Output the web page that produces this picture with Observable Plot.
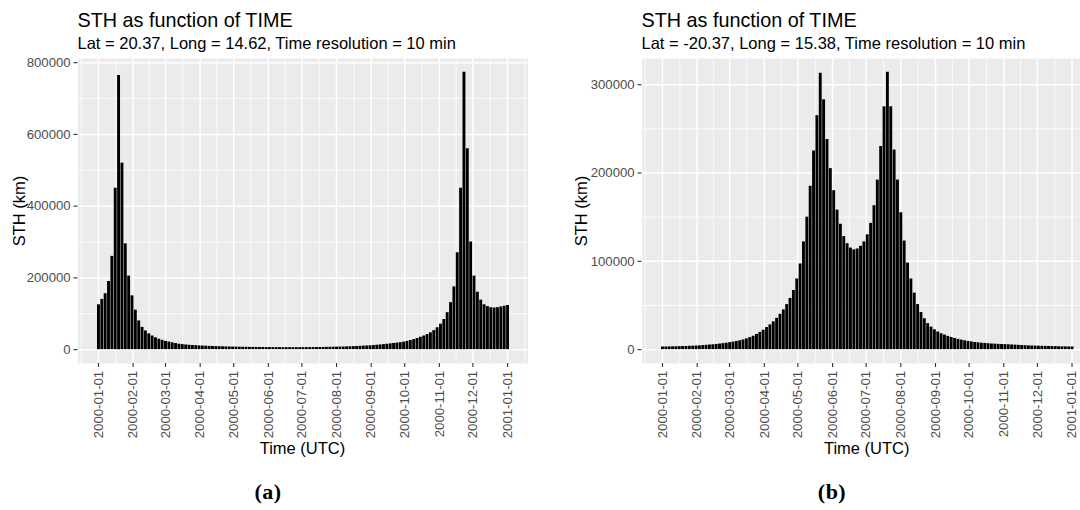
<!DOCTYPE html>
<html>
<head>
<meta charset="utf-8">
<script src="https://cdn.jsdelivr.net/npm/d3@7"></script>
<script src="https://cdn.jsdelivr.net/npm/@observablehq/plot@0.6"></script>
<style>
  html, body { margin: 0; padding: 0; background: #fff; overflow: hidden; }
  #wrap { position: relative; width: 1080px; height: 510px; overflow: hidden; font-family: "Liberation Sans", Arial, sans-serif; color: #000; }
  .abs { position: absolute; white-space: nowrap; line-height: 1; }
  .title { font-size: 19.8px; }
  .subtitle { font-size: 16.5px; }
  .axtitle { font-size: 16.5px; }
  .ytitle { transform: translate(-50%, -50%) rotate(-90deg); }
  .xtitle { transform: translateX(-50%); }
  .cap { font-family: "Liberation Serif", "Times New Roman", serif; font-weight: bold; font-size: 22px; transform: translateX(-50%); letter-spacing: 0.5px; }
  .plot { position: absolute; top: 0; }
</style>
</head>
<body>
<div id="wrap"></div>
<script>
// ---------------- data ----------------
// STH envelope (daily maximum, km) sampled every 3 days from 2000-01-01
const sampleStepDays = 3;
const sthA = [
  125000, 140000, 156000, 190000, 260000, 450000, 764000, 520000, 295000, 205000,
  150000, 110000, 80000, 62000, 52000, 44000, 38000, 33000, 29000, 26000,
  23000, 21000, 19000, 17000, 15000, 14000, 13000, 12200, 11600, 11000,
  10500, 10000, 9600, 9200, 8800, 8500, 8200, 7900, 7600, 7400,
  7200, 7000, 6800, 6600, 6500, 6300, 6200, 6100, 6000, 5900,
  5800, 5700, 5700, 5600, 5600, 5500, 5500, 5500, 5500, 5500,
  5500, 5600, 5600, 5700, 5800, 5900, 6000, 6100, 6300, 6500,
  6700, 6900, 7100, 7400, 7700, 8000, 8400, 8800, 9200, 9700,
  10200, 10800, 11500, 12300, 13100, 14000, 15000, 16100, 17200, 18300,
  19500, 21000, 23000, 25500, 28000, 31000, 34500, 38000, 42000, 47000,
  53000, 61000, 71000, 84000, 103000, 131000, 175000, 270000, 450000, 773000,
  560000, 300000, 205000, 160000, 138000, 125000, 120000, 117000, 116000, 117000,
  119000, 121000, 123000
];
const sthB = [
  3000, 3000, 3100, 3200, 3300, 3400, 3500, 3600, 3800, 3900,
  4100, 4300, 4600, 4900, 5200, 5500, 5900, 6300, 6800, 7300,
  7900, 8500, 9200, 10000, 11000, 12200, 13600, 15200, 17200, 19500,
  22000, 25000, 28000, 31500, 35500, 40000, 45000, 51000, 58000, 67000,
  80000, 97000, 122000, 150000, 185000, 225000, 265000, 313000, 283000, 238000,
  205000, 180000, 158000, 142000, 128000, 120000, 115000, 113000, 114000, 117000,
  122000, 130000, 143000, 163000, 192000, 230000, 275000, 314000, 275000, 226000,
  192000, 155000, 123000, 98000, 80000, 64000, 51000, 42000, 35000, 29500,
  25500, 22500, 20000, 18000, 16500, 15000, 13800, 12700, 11700, 10800,
  10000, 9300, 8700, 8100, 7700, 7300, 7000, 6700, 6400, 6200,
  6000, 5800, 5700, 5500, 5300, 5100, 4900, 4700, 4500, 4300,
  4100, 4000, 3900, 3800, 3700, 3600, 3500, 3400, 3300, 3200,
  3100, 3100, 3000
];
const xTickLabels = [
  "2000-01-01", "2000-02-01", "2000-03-01", "2000-04-01", "2000-05-01", "2000-06-01", "2000-07-01",
  "2000-08-01", "2000-09-01", "2000-10-01", "2000-11-01", "2000-12-01", "2001-01-01"
];
const yTicksA = [0, 200000, 400000, 600000, 800000];
const yMinorA = [100000, 300000, 500000, 700000];
const yTicksB = [0, 100000, 200000, 300000];
const yMinorB = [50000, 150000, 250000];
const titles = ["STH as function of TIME", "STH as function of TIME"];
const subtitles = ["Lat = 20.37, Long = 14.62, Time resolution = 10 min", "Lat = -20.37, Long = 15.38, Time resolution = 10 min"];
const xTitle = "Time (UTC)";
const yTitle = "STH (km)";
const captions = ["(a)", "(b)"];

// ---------------- helpers ----------------
const DAY = 864e5;
const xTicks = xTickLabels.map(s => new Date(s + "T00:00:00Z"));
const t0 = +xTicks[0];
const t1 = +xTicks[xTicks.length - 1];
const span = t1 - t0;
const xDomain = [new Date(t0 - 0.05 * span), new Date(t1 + 0.05 * span)];
// minor grid: midpoints between (extended) monthly breaks
const extBreaks = [new Date(Date.UTC(1999, 11, 1)), ...xTicks, new Date(Date.UTC(2001, 1, 1))];
const xMinor = [];
for (let i = 0; i < extBreaks.length - 1; i++) {
  const m = new Date((+extBreaks[i] + +extBreaks[i + 1]) / 2);
  if (m >= xDomain[0] && m <= xDomain[1]) xMinor.push(m);
}
const fmtX = d => xTickLabels[xTicks.findIndex(t => +t === +d)];

function panel({values, yTicks, yMinor, marginLeft, width}) {
  const data = values.map((v, i) => ({t: new Date(t0 + i * sampleStepDays * DAY), v}));
  const maxV = d3.max(values);
  const yDomain = [-0.05 * maxV, 1.05 * maxV];
  return Plot.plot({
    width, height: 460,
    marginLeft, marginRight: 12.5, marginTop: 58, marginBottom: 97,
    style: {background: "transparent", fontFamily: "'Liberation Sans', Arial, sans-serif", fontSize: "13.2px", overflow: "visible"},
    x: {type: "utc", domain: xDomain, axis: null},
    y: {domain: yDomain, axis: null},
    marks: [
      Plot.frame({fill: "#EBEBEB", stroke: "none"}),
      Plot.gridX(xMinor, {stroke: "#fff", strokeOpacity: 1, strokeWidth: 0.8}),
      Plot.gridY(yMinor, {stroke: "#fff", strokeOpacity: 1, strokeWidth: 0.8}),
      Plot.gridX(xTicks, {stroke: "#fff", strokeOpacity: 1, strokeWidth: 1.5}),
      Plot.gridY(yTicks, {stroke: "#fff", strokeOpacity: 1, strokeWidth: 1.5}),
      Plot.ruleX(data, {x: "t", y1: 0, y2: "v", stroke: "#000", strokeWidth: 2.9}),
      Plot.axisX(xTicks, {anchor: "bottom", tickRotate: -90, tickFormat: fmtX, tickSize: 4, tickPadding: 3.3,
        fontSize: 13.2, fill: "#4D4D4D", stroke: "#333", strokeWidth: 1.1, label: null}),
      Plot.axisY(yTicks, {anchor: "left", tickFormat: d3.format("d"), tickSize: 4, tickPadding: 3.3,
        fontSize: 13.2, fill: "#4D4D4D", stroke: "#333", strokeWidth: 1.1, label: null})
    ]
  });
}

const wrap = document.getElementById("wrap");
const panels = [
  {left: 0, values: sthA, yTicks: yTicksA, yMinor: yMinorA, marginLeft: 77.5, width: 540, frameL: 77.5},
  {left: 540, values: sthB, yTicks: yTicksB, yMinor: yMinorB, marginLeft: 101.5, width: 564.5, frameL: 641.5}
];
panels.forEach((p, k) => {
  const svg = panel(p);
  svg.classList.add("plot");
  svg.style.left = p.left + "px";
  wrap.appendChild(svg);
  const frameR = p.left + p.width - 12.5;
  const cx = (p.frameL + frameR) / 2;
  const add = (cls, text, css) => {
    const d = document.createElement("div");
    d.className = "abs " + cls;
    d.textContent = text;
    Object.assign(d.style, css);
    wrap.appendChild(d);
  };
  add("title", titles[k], {left: p.frameL + "px", top: "11px"});
  add("subtitle", subtitles[k], {left: p.frameL + "px", top: "35px"});
  add("axtitle xtitle", xTitle, {left: cx + "px", top: "440px"});
  add("axtitle ytitle", yTitle, {left: (p.left + (k === 0 ? 19 : 41)) + "px", top: "210.5px"});
  add("cap", captions[k], {left: (k === 0 ? 268 : 832) + "px", top: "481px"});
});
</script>
</body>
</html>
